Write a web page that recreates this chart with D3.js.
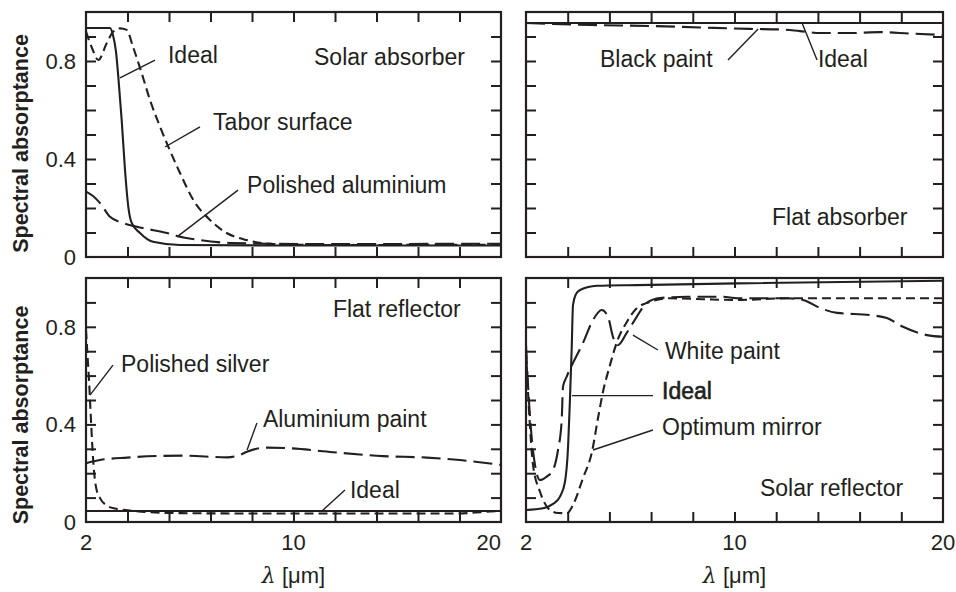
<!DOCTYPE html>
<html>
<head>
<meta charset="utf-8">
<script src="https://cdn.jsdelivr.net/npm/d3@7"></script>
<style>
  body { margin: 0; background: #fff; }
  text { font-family: "Liberation Sans", Arial, Helvetica, sans-serif; fill: #231f20; }
</style>
</head>
<body>
<svg id="chart"></svg>
<script>
const width = 956;
const height = 592;

// wavelength axis: 2 at left edge, 10 in the middle, 20 at right edge
const xBreaks = [2, 10, 20];
const xTickLabels = [2, 10, 20];
const yTickLabels = [0, 0.4, 0.8];

// [lambda (um), spectral absorptance]
const solarAbsorberIdeal = [
  [2, 0.935], [2.925, 0.935], [3.04, 0.906], [3.157, 0.837], [3.245, 0.736],
  [3.376, 0.559], [3.504, 0.355], [3.631, 0.205], [3.762, 0.139], [4.082, 0.098],
  [4.583, 0.062], [5.624, 0.049], [10.31, 0.047], [20, 0.047]
];
const taborSurface = [
  [2, 0.92], [2.23, 0.853], [2.474, 0.804], [2.798, 0.872], [3.053, 0.92],
  [3.311, 0.933], [3.569, 0.927], [3.812, 0.858], [4.148, 0.75], [4.467, 0.641],
  [4.853, 0.532], [5.173, 0.45], [5.624, 0.343], [6.137, 0.233], [6.781, 0.151],
  [7.424, 0.098], [8.195, 0.069], [9.21, 0.053], [11.28, 0.049], [20, 0.05]
];
const polishedAluminium = [
  [2, 0.267], [2.27, 0.249], [2.54, 0.22], [2.925, 0.164], [3.427, 0.139],
  [4.198, 0.118], [5.123, 0.098], [5.508, 0.086], [6.395, 0.069], [7.667, 0.057],
  [10.31, 0.053], [20, 0.054]
];

const flatAbsorberIdeal = [[2, 0.955], [20, 0.955]];
const blackPaint = [
  [2, 0.955], [4.456, 0.947], [6.758, 0.943], [8.676, 0.937], [10.74, 0.931],
  [12.18, 0.929], [13.14, 0.922], [14.1, 0.914], [15.54, 0.914], [16.98, 0.918],
  [18.42, 0.912], [20, 0.906]
];

const flatReflectorIdeal = [[2, 0.045], [20, 0.045]];
const polishedSilver = [
  [2, 0.787], [2.058, 0.684], [2.116, 0.582], [2.173, 0.459], [2.231, 0.336],
  [2.289, 0.234], [2.386, 0.143], [2.54, 0.098], [2.771, 0.07], [3.118, 0.055],
  [3.889, 0.045], [5.123, 0.037], [8.323, 0.035], [12.72, 0.035], [18.02, 0.035],
  [18.75, 0.039], [20, 0.045]
];
const aluminiumPaint = [
  [2, 0.241], [2.54, 0.254], [3.581, 0.264], [5.739, 0.272], [7.436, 0.265],
  [7.937, 0.275], [8.207, 0.288], [8.978, 0.305], [9.865, 0.302], [11.9, 0.286],
  [14.31, 0.27], [16.43, 0.264], [18.02, 0.254], [20, 0.234]
];

const solarReflectorIdeal = [
  [2, 0.049], [2.652, 0.056], [3.036, 0.074], [3.305, 0.104], [3.496, 0.165],
  [3.612, 0.303], [3.688, 0.508], [3.754, 0.713], [3.803, 0.889], [3.918, 0.934],
  [4.072, 0.951], [4.724, 0.968], [6.259, 0.971], [10.12, 0.978], [20, 0.989]
];
const whitePaint = [
  [2, 0.725], [2.077, 0.561], [2.192, 0.377], [2.345, 0.234], [2.537, 0.172],
  [2.794, 0.186], [3.036, 0.213], [3.228, 0.295], [3.37, 0.418], [3.42, 0.555],
  [3.562, 0.596], [3.803, 0.652], [4.187, 0.734], [4.571, 0.828], [4.904, 0.869],
  [5.146, 0.841], [5.338, 0.759], [5.53, 0.725], [5.864, 0.775], [6.248, 0.841],
  [6.631, 0.898], [7.141, 0.918], [8.178, 0.923], [9.559, 0.923], [10.12, 0.917],
  [12.52, 0.917], [13.29, 0.91], [14.1, 0.877], [14.92, 0.857], [16.5, 0.848],
  [17.31, 0.836], [18.08, 0.8], [19.23, 0.766], [20, 0.759]
];
const optimumMirror = [
  [2, 0.705], [2.115, 0.459], [2.269, 0.234], [2.537, 0.124], [2.921, 0.049],
  [3.228, 0.037], [3.573, 0.036], [3.803, 0.07], [4.187, 0.18], [4.532, 0.288],
  [4.763, 0.426], [4.955, 0.534], [5.223, 0.643], [5.492, 0.739], [5.875, 0.821],
  [6.259, 0.877], [6.643, 0.898], [7.525, 0.917], [8.792, 0.913], [10.12, 0.91],
  [12.52, 0.917], [20, 0.917]
];

const SOLID = null;
const SHORT = "9,5";
const LONG = "19,7";

const panels = [
  {
    left: 86, top: 12, w: 415, h: 245, yLabels: true, xLabels: false,
    series: [
      { data: taborSurface, dash: SHORT },
      { data: polishedAluminium, dash: LONG },
      { data: solarAbsorberIdeal, dash: SOLID }
    ],
    notes: [
      { text: "Ideal", at: [5.16, 0.792], from: [3.311, 0.731], to: [4.66, 0.804] },
      { text: "Tabor surface", at: [6.9, 0.518], from: [5.046, 0.449], to: [6.395, 0.531] },
      { text: "Polished aluminium", at: [8.21, 0.261], from: [5.508, 0.082], to: [7.86, 0.273] },
      { text: "Solar absorber", at: [10.99, 0.784] }
    ]
  },
  {
    left: 526, top: 12, w: 417, h: 245, yLabels: false, xLabels: false,
    series: [
      { data: blackPaint, dash: LONG },
      { data: flatAbsorberIdeal, dash: SOLID }
    ],
    notes: [
      { text: "Black paint", at: [4.84, 0.776], from: [9.75, 0.804], to: [11.13, 0.931] },
      { text: "Ideal", at: [14.0, 0.776], from: [13.96, 0.804], to: [13.24, 0.955] },
      { text: "Flat absorber", at: [11.8, 0.131] }
    ]
  },
  {
    left: 86, top: 278, w: 415, h: 244, yLabels: true, xLabels: true,
    series: [
      { data: polishedSilver, dash: SHORT },
      { data: aluminiumPaint, dash: LONG },
      { data: flatReflectorIdeal, dash: SOLID }
    ],
    notes: [
      { text: "Flat reflector", at: [11.9, 0.84] },
      { text: "Polished silver", at: [3.35, 0.615], from: [2.154, 0.52], to: [3.04, 0.643] },
      { text: "Aluminium paint", at: [8.82, 0.389], from: [8.21, 0.295], to: [8.59, 0.406] },
      { text: "Ideal", at: [12.72, 0.098], from: [11.37, 0.045], to: [12.48, 0.131] }
    ]
  },
  {
    left: 526, top: 278, w: 417, h: 244, yLabels: false, xLabels: true,
    series: [
      { data: optimumMirror, dash: SHORT },
      { data: whitePaint, dash: LONG },
      { data: solarReflectorIdeal, dash: SOLID }
    ],
    notes: [
      { text: "White paint", at: [7.33, 0.668], from: [6.105, 0.766], to: [7.06, 0.705] },
      { text: "Ideal", at: [7.22, 0.504], from: [3.765, 0.518], to: [6.87, 0.518], heavy: true },
      { text: "Optimum mirror", at: [7.22, 0.357], from: [4.571, 0.295], to: [6.87, 0.377] },
      { text: "Solar reflector", at: [11.22, 0.107] }
    ]
  }
];

const svg = d3.select("#chart").attr("width", width).attr("height", height);

panels.forEach((p, i) => {
  const x = d3.scaleLinear().domain(xBreaks).range([0, p.w / 2, p.w]);
  const y = d3.scaleLinear().domain([0, 1]).range([p.h, 0]);
  const g = svg.append("g").attr("transform", `translate(${p.left},${p.top})`);

  const line = d3.line()
    .x(d => x(d[0]))
    .y(d => y(d[1]))
    .curve(d3.curveMonotoneX);

  g.selectAll("path.curve")
    .data(p.series)
    .enter()
    .append("path")
    .attr("class", "curve")
    .attr("d", d => line(d.data))
    .attr("fill", "none")
    .attr("stroke", "#231f20")
    .attr("stroke-width", 2.1)
    .attr("stroke-dasharray", d => d.dash);

  // minor ticks, 10 equal steps across, every 0.1 up
  const xMinor = d3.range(1, 10).map(k => x.invert(k * p.w / 10));
  const yMinor = d3.range(1, 10).map(k => k / 10);
  const tickAxes = [
    [d3.axisTop(x).tickValues(xMinor), `translate(0,0)`],
    [d3.axisBottom(x).tickValues(xMinor), `translate(0,${p.h})`],
    [d3.axisLeft(y).tickValues(yMinor), `translate(0,0)`],
    [d3.axisRight(y).tickValues(yMinor), `translate(${p.w},0)`]
  ];
  tickAxes.forEach(([axis, tr]) => {
    const a = g.append("g")
      .attr("transform", tr)
      .call(axis.tickSize(-10).tickFormat(""));
    a.select(".domain").remove();
    a.selectAll("line").attr("stroke", "#231f20").attr("stroke-width", 2);
  });

  g.append("rect")
    .attr("width", p.w)
    .attr("height", p.h)
    .attr("fill", "none")
    .attr("stroke", "#231f20")
    .attr("stroke-width", 2.2);

  // annotations
  p.notes.forEach(n => {
    if (n.from) {
      g.append("line")
        .attr("x1", x(n.from[0])).attr("y1", y(n.from[1]))
        .attr("x2", x(n.to[0])).attr("y2", y(n.to[1]))
        .attr("stroke", "#231f20")
        .attr("stroke-width", 1.4);
    }
    const t = g.append("text")
      .attr("x", x(n.at[0]))
      .attr("y", y(n.at[1]))
      .attr("font-size", 23)
      .text(n.text);
    if (n.heavy) t.attr("stroke", "#231f20").attr("stroke-width", 0.6);
  });

  if (p.yLabels) {
    g.selectAll("text.ytick")
      .data(yTickLabels)
      .enter()
      .append("text")
      .attr("class", "ytick")
      .attr("x", -10)
      .attr("y", d => y(d))
      .attr("dy", "0.36em")
      .attr("text-anchor", "end")
      .attr("font-size", 22)
      .text(d => d);

    g.append("text")
      .attr("transform", `translate(${28 - p.left},${p.h / 2 + (i < 2 ? 9 : 15)}) rotate(-90)`)
      .attr("text-anchor", "middle")
      .attr("font-size", 21.5)
      .attr("font-weight", "bold")
      .text("Spectral absorptance");
  }

  if (p.xLabels) {
    g.selectAll("text.xtick")
      .data(xTickLabels)
      .enter()
      .append("text")
      .attr("class", "xtick")
      .attr("x", d => x(d))
      .attr("y", 550 - p.top)
      .attr("text-anchor", (d, k) => (i === 2 && k === 2 ? "end" : "middle"))
      .attr("font-size", 22)
      .text(d => d);

    const t = g.append("text")
      .attr("x", p.w / 2)
      .attr("y", 583 - p.top)
      .attr("text-anchor", "middle")
      .attr("font-size", 22);
    t.append("tspan").attr("font-style", "italic").attr("font-family", "DejaVu Serif, serif").text("λ");
    t.append("tspan").text(" [μm]");
  }
});
</script>
</body>
</html>
